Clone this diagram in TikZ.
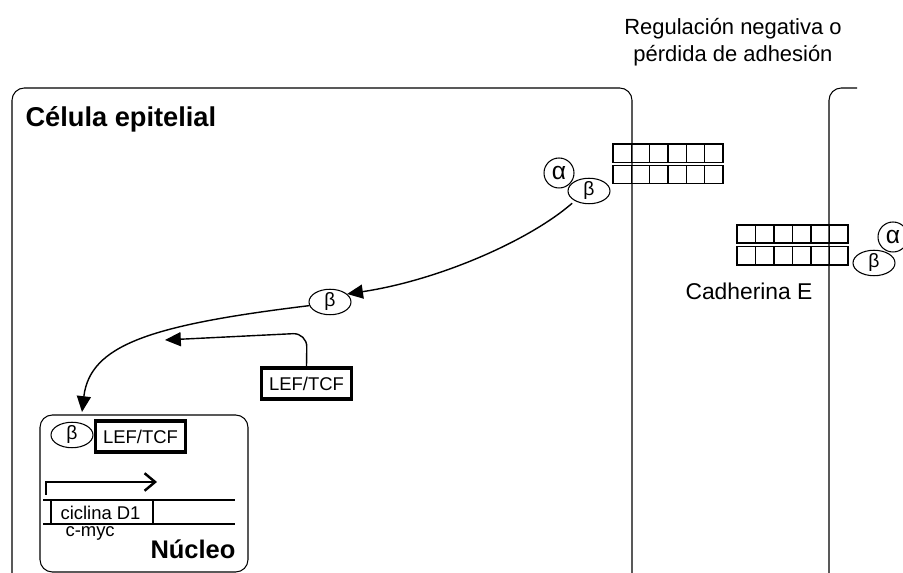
\documentclass[tikz,border=0pt]{standalone}
\usepackage{fontspec}
\setmainfont{Liberation Sans}
\usetikzlibrary{arrows.meta,positioning,shapes.geometric}

\tikzset{
  alphanode/.style={circle,draw,fill=white,minimum size=0.6cm,inner sep=0pt,font=\fontsize{14}{14}\selectfont},
  betanode/.style={ellipse,draw,fill=white,minimum width=0.84cm,minimum height=0.44cm,inner sep=0pt,font=\fontsize{11}{11}\selectfont},
  lefbox/.style={draw,line width=1.8pt,minimum width=1.8cm,minimum height=0.62cm,inner sep=2pt,font=\fontsize{10.5}{12}\selectfont},
  smalltxt/.style={inner sep=0pt,font=\fontsize{10.5}{12}\selectfont},
  signal/.style={->,line width=0.8pt},
}

\begin{document}
\begin{tikzpicture}[x=0.02cm,y=-0.02cm,>={Triangle[length=9pt,width=8pt]},line width=0.6pt]
\clip (0,0) rectangle (903,573);
\fill[white] (0,0) rectangle (903,573);
\draw[rounded corners=7pt] (12,600) -- (12,88) -- (632,88) -- (632,600);
\draw[rounded corners=7pt] (829,600) -- (829,88) -- (857,88);
\node[anchor=base west,inner sep=0pt,font=\fontsize{15.5}{18}\bfseries] (title) at (25,127) {Célula epitelial};
\node[align=center,inner sep=0pt,font=\fontsize{12.5}{15.3}\selectfont] (reg) at (733,42) {Regulación negativa o\\pérdida de adhesión};
\foreach \x in {0,...,5} {
  \draw[line width=0.8pt] (613+\x*18.33,144) rectangle ++(18.33,18.5);
  \draw[line width=0.8pt] (613+\x*18.33,165.5) rectangle ++(18.33,18);
  \draw[line width=0.8pt] (737+\x*18.5,225) rectangle ++(18.5,18);
  \draw[line width=0.8pt] (737+\x*18.5,246.5) rectangle ++(18.5,18.5);
}
\node[anchor=base west,inner sep=0pt,font=\fontsize{13}{15}\selectfont] (cad) at (685,300) {Cadherina E};
\node[alphanode] (a1) at (559,173) {α};
\node[betanode] (b1) at (589,191) {β};
\node[alphanode] (a2) at (893,237) {α};
\node[betanode] (b2) at (874,263) {β};
\node[betanode] (bm) at (330,302) {β};
\node[lefbox] (lef) at (306.5,383.5) {LEF/TCF};
\coordinate (lefin) at (165,340);
\node[draw,rounded corners=7pt,minimum width=4.16cm,minimum height=3.14cm,inner sep=0pt] (nuc) at (144,493.5) {};
\coordinate (nin) at (82,412);
\node[betanode] (bn) at (72,435) {β};
\node[lefbox] (lefn) at (140.5,436.5) {LEF/TCF};
\draw[line width=1.4pt,-{Straight Barb[length=6pt,width=10pt]}] (46,495) |- (157,482);
\draw (43,500) -- (235,500) (43,524) -- (235,524);
\draw (51,500) -- (51,524) (153,500) -- (153,524);
\node[smalltxt,anchor=base west] (cyc) at (60,520) {ciclina D1};
\node[smalltxt,anchor=base west] (myc) at (65,537) {c-myc};
\node[anchor=base east,inner sep=0pt,font=\fontsize{14.5}{17}\bfseries] (nucl) at (236,559) {Núcleo};
\draw[signal,shorten <=2pt] (b1.215) .. controls (530,240) and (440,280) .. (bm.25);
\draw[signal] (bm.190) .. controls (150,325) and (90,345) .. (nin);
\draw[signal,rounded corners=8pt] (lef.north) -- (307,333) -- (lefin);
\end{tikzpicture}
\end{document}
